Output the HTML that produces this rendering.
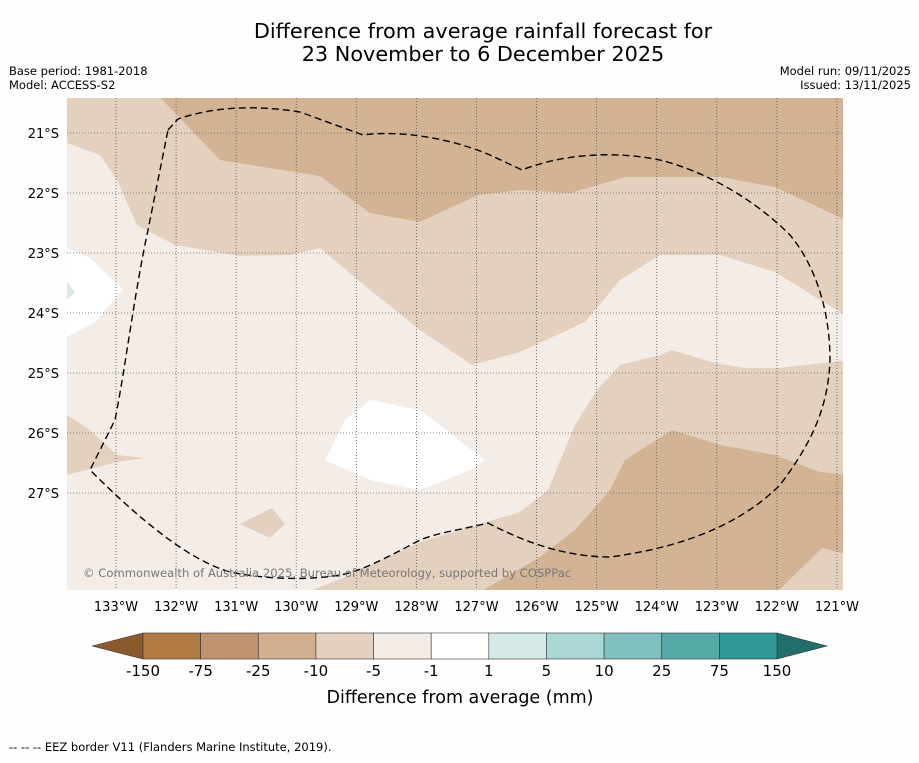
<!DOCTYPE html>
<html><head><meta charset="utf-8"><style>
body{margin:0;background:#fff;width:919px;height:758px;overflow:hidden;font-family:"Liberation Sans","DejaVu Sans",sans-serif;}
svg text{font-family:"DejaVu Sans","Liberation Sans",sans-serif;}
</style></head><body>
<svg width="919" height="758">
<rect width="919" height="758" fill="#fefefe"/>
<text x="483" y="38" text-anchor="middle" font-size="20.8">Difference from average rainfall forecast for</text>
<text x="483" y="61" text-anchor="middle" font-size="20.8">23 November to 6 December 2025</text>
<text x="9" y="75" font-size="11.5">Base period: 1981-2018</text>
<text x="9" y="89" font-size="11.5">Model: ACCESS-S2</text>
<text x="911" y="75" font-size="11.5" text-anchor="end">Model run: 09/11/2025</text>
<text x="911" y="89" font-size="11.5" text-anchor="end">Issued: 13/11/2025</text>
<defs><clipPath id="mc"><rect x="67" y="98" width="776" height="492"/></clipPath></defs>
<g clip-path="url(#mc)">
<rect x="67" y="98" width="776" height="492" fill="#f4ede7"/>
<polygon fill="#e3d0bf" points="67,90 850,90 850,318 820,300 775,272 720,255 660,255 620,280 585,322 520,352 472,365 420,330 370,290 320,248 290,255 240,256 175,245 137,225 117,180 100,155 67,143"/>
<polygon fill="#d2b394" points="153,90 850,90 850,222 820,208 775,187 720,177 625,177 570,193 520,190 478,195 420,222 370,213 320,176 220,160"/>
<polygon fill="#e3d0bf" points="850,360 780,368 745,368 715,363 672,350 660,355 620,365 597,390 575,425 548,490 520,512 420,542 350,575 300,595 850,595"/>
<polygon fill="#d2b394" points="850,475 820,472 775,455 720,445 672,430 625,460 610,490 575,530 540,557 475,595 850,595"/>
<polygon fill="#e3d0bf" points="850,555 822,548 774,595 850,595"/>
<polygon fill="#e3d0bf" points="60,415 67,415 90,430 117,455 145,458 117,462 67,475 60,475"/>
<polygon fill="#e3d0bf" points="240,524 272,508 285,524 270,538"/>
<polygon fill="#ffffff" points="370,400 420,410 485,460 470,470 420,490 370,480 325,460 345,420"/>
<polygon fill="#ffffff" points="60,248 67,248 90,258 123,290 95,322 67,337 60,337"/>
<polygon fill="#d5e9e8" points="67,282 75,292 67,300"/>
<g id="grid"></g>
<path fill="none" stroke="#000" stroke-width="1.4" stroke-dasharray="7,4" d="M168,130 L178,119 C210,108 250,104 300,112 L363,135 C400,130 450,138 490,155 L522,170 C560,155 610,150 660,160 C700,170 750,195 790,235 C815,265 830,310 830,360 C828,410 810,445 780,485 C750,515 700,545 610,557 C570,557 530,545 488,523 C460,530 440,532 420,540 C390,556 360,572 340,575 C310,580 270,580 230,572 C195,562 150,530 90,470 L115,420 C125,370 135,290 148,230 L168,130"/>
<text x="83" y="577" font-size="11.6" fill="#777">© Commonwealth of Australia 2025, Bureau of Meteorology, supported by COSPPac</text>
</g>
<g id="axes"></g>
<g id="cbar"></g>
<text x="460" y="703" text-anchor="middle" font-size="17.5">Difference from average (mm)</text>
<text x="9" y="751" font-size="11.5">--  --  -- EEZ border V11 (Flanders Marine Institute, 2019).</text>
</svg>
<script>
const lonTicks=[133,132,131,130,129,128,127,126,125,124,123,122,121];
const latTicks=[21,22,23,24,25,26,27];
const cbLevels=[-150,-75,-25,-10,-5,-1,1,5,10,25,75,150];
const cbColors=["#b07a42","#c09470","#d2b08f","#e3d0bf","#f4ede7","#ffffff","#d5e9e8","#aad6d4","#80c1bf","#55aaa8","#2e9996"];
const NS="http://www.w3.org/2000/svg";
function xLon(l){return 116+(133-l)*60.08;}
function yLat(l){return 133+(l-21)*60;}
function mk(t,a,p){const e=document.createElementNS(NS,t);for(const k in a)e.setAttribute(k,a[k]);p.appendChild(e);return e;}
const grid=document.getElementById('grid'),axes=document.getElementById('axes'),cb=document.getElementById('cbar');
lonTicks.forEach(l=>{const x=xLon(l);
const g=mk('line',{x1:x,x2:x,y1:98,y2:590,stroke:'#555','stroke-width':0.8,'stroke-dasharray':'1,2'},grid);


const t=mk('text',{x:x,y:611,'text-anchor':'middle','font-size':13},axes);t.textContent=l+'°W';

});
latTicks.forEach(l=>{const y=yLat(l);
const g=mk('line',{x1:67,x2:843,y1:y,y2:y,stroke:'#666','stroke-width':0.8,'stroke-dasharray':'1,2'},grid);


const t=mk('text',{x:59,y:y+5,'text-anchor':'end','font-size':13},axes);t.textContent=l+'°S';

});
const x0=143,w=(777-143)/cbColors.length,y0=633,h=26;
const l=mk('polygon',{points:`${x0},${y0} ${x0},${y0+h} 92,${y0+h/2}`,fill:'#8b5a2b',stroke:'#333','stroke-width':0.6},cb);


const r=mk('polygon',{points:`777,${y0} 777,${y0+h} 827,${y0+h/2}`,fill:'#1f6f6d',stroke:'#333','stroke-width':0.6},cb);


cbColors.forEach((c,i)=>{const b=mk('rect',{x:x0+i*w,y:y0,width:w,height:h,fill:c,stroke:'#333','stroke-width':0.6},cb);

});
cbLevels.forEach((v,i)=>{const t=mk('text',{x:x0+i*w,y:676,'text-anchor':'middle','font-size':15},cb);t.textContent=v;

});
</script>
</body></html>
